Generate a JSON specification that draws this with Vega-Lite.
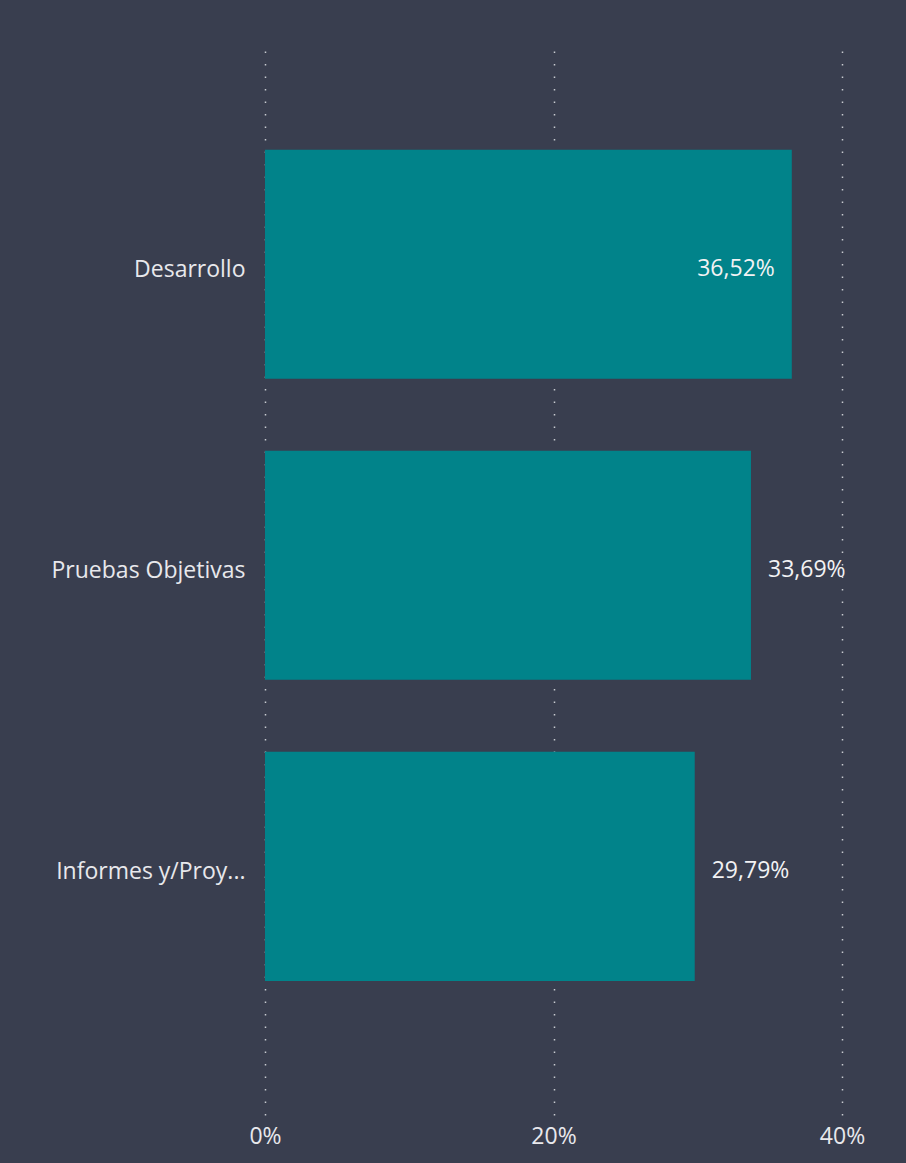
{
  "$schema": "https://vega.github.io/schema/vega-lite/v6.json",
  "width": 577,
  "height": 1075,
  "autosize": {"type": "none"},
  "padding": {"left": 265, "top": 40, "right": 64, "bottom": 48},
  "background": "#393E4F",
  "config": {
    "view": {"stroke": null},
    "font": "Open Sans",
    "locale": {
      "number": {
        "decimal": ",",
        "thousands": ".",
        "grouping": [3],
        "currency": ["", " €"]
      }
    }
  },
  "data": {
    "values": [
      {"categoria": "Desarrollo", "pct": 0.3652},
      {"categoria": "Pruebas Objetivas", "pct": 0.3369},
      {"categoria": "Informes y/Proy...", "pct": 0.2979}
    ]
  },
  "encoding": {
    "y": {
      "field": "categoria",
      "type": "nominal",
      "sort": null,
      "title": null,
      "scale": {"paddingInner": 0.239, "paddingOuter": 0.405, "align": 0.45},
      "axis": {
        "domain": false,
        "ticks": false,
        "labelFontSize": 23,
        "labelColor": "#E8E8EC",
        "labelPadding": 20,
        "labelLimit": 400,
        "labelFont": "Open Sans",
        "labelBaseline": "middle",
        "labelOffset": 6
      }
    },
    "x": {
      "field": "pct",
      "type": "quantitative",
      "title": null,
      "scale": {"domain": [0, 0.4], "nice": false},
      "axis": {
        "format": ".0%",
        "values": [0, 0.2, 0.4],
        "domain": false,
        "ticks": false,
        "grid": true,
        "gridColor": "#C8CAD0",
        "gridDash": [1.5, 11],
        "gridWidth": 1.5,
        "labelFontSize": 23,
        "labelColor": "#E8E8EC",
        "labelPadding": 10,
        "labelFont": "Open Sans",
        "labelFlush": false
      }
    }
  },
  "layer": [
    {"mark": {"type": "bar", "color": "#01838A"}},
    {
      "transform": [{"filter": "datum.pct > 0.35"}],
      "mark": {"type": "text", "align": "right", "baseline": "middle", "dx": -17, "dy": 5, "fontSize": 23, "color": "#F2F2F4", "font": "Open Sans"},
      "encoding": {"text": {"field": "pct", "type": "quantitative", "format": ".2%"}}
    },
    {
      "transform": [{"filter": "datum.pct <= 0.35"}],
      "mark": {"type": "text", "align": "left", "baseline": "middle", "dx": 17, "dy": 5, "fontSize": 23, "color": "#F2F2F4", "font": "Open Sans"},
      "encoding": {"text": {"field": "pct", "type": "quantitative", "format": ".2%"}}
    }
  ]
}
